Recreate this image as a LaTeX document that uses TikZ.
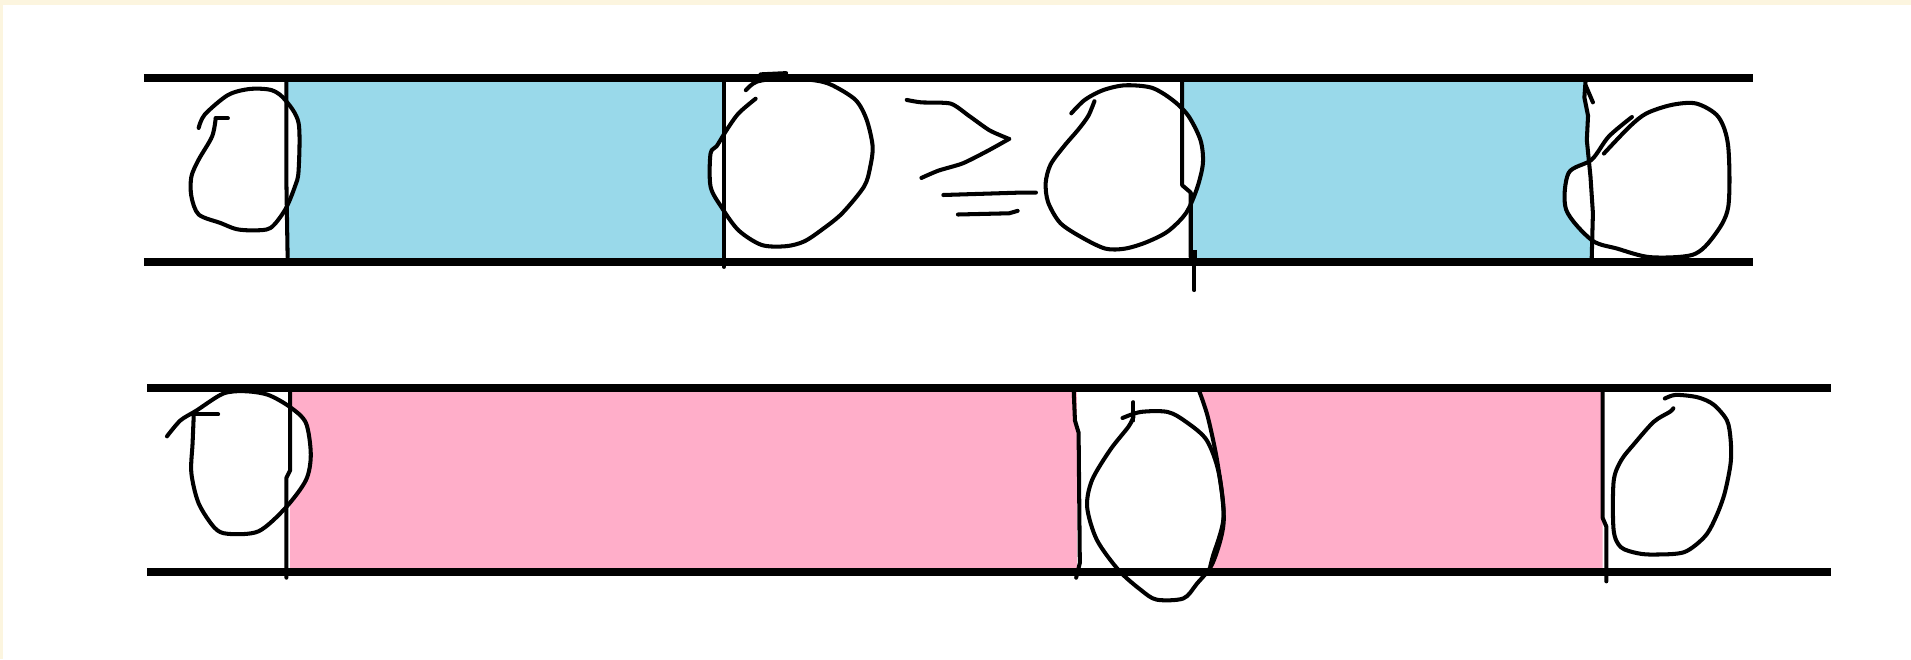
\documentclass[tikz,border=0pt]{standalone}
\definecolor{paintblue}{HTML}{99D9EA}
\definecolor{paintpink}{HTML}{FFAEC9}
\definecolor{cream}{HTML}{FCF5DF}
\tikzset{
  rail/.style={line width=4.6pt},
  wall/.style={line width=2.3pt, line cap=round, line join=round},
  blob/.style={line width=2.3pt, fill=white, line cap=round, line join=round},
}
\begin{document}
\begin{tikzpicture}[x=0.024374cm, y=-0.024374cm]
    \useasboundingbox (0,0) rectangle (1568,541);
    % frame
    \fill[cream] (0,0) rectangle (1568,541);
    \fill[white] (2.2,4.2) rectangle (1568,541);

    % coloured cells
    \fill[paintblue] (235,64) rectangle (594,215);
    \fill[paintblue] (970,64) -- (1301,64) -- (1300,80) -- (1303,95) -- (1302,115) -- (1305,145)
        -- (1307,175) -- (1306,215) -- (977,215) -- (977,158) -- (970,152) -- cycle;
    \fill[paintpink] (238,318) rectangle (884,469);
    \fill[paintpink] (984,318) -- (984,321) -- (991,342) -- (999,380) -- (1004,424) -- (995,457)
        -- (993,469) -- (1315,469) -- (1315,318) -- cycle;

    % top row
    \draw[blob] plot[smooth, tension=0.5] coordinates {(163,105) (168,94) (187,78) (205,73) (223,74)
        (234,82) (245,101) (245,140) (242,153) (234,172) (222,187) (208,189) (194,188) (181,183) (163,176)
        (157,161) (157,145) (163,131) (174,112) (177,97)};
    \draw[wall] (177,97) -- (187,97);
    \draw[blob] plot[smooth, tension=0.5] coordinates {(620,81) (606,93) (596,107) (588,120) (583,126)
        (583,153) (592,170) (606,189) (625,201) (645,202) (660,198) (675,188) (691,175) (709,153) (714,137)
        (716,120) (711,98) (702,82) (683,70) (669,66) (643,64) (621,67) (612,74)};
    \draw[wall] (624,61) -- (645,60);
    \draw[blob] plot[smooth, tension=0.5] coordinates {(879,93) (890,82) (905,74) (923,70) (945,72)
        (962,82) (975,95) (985,115) (987,134) (982,155) (973,175) (958,190) (940,199) (923,204)
        (907,204) (888,195) (870,183) (860,166) (858,150) (862,135) (873,120) (885,106) (893,95) (898,83)};
    \draw[blob] plot[smooth, tension=0.5] coordinates {(1339,96) (1320,112) (1306,131) (1287,142)
        (1285,172) (1306,197) (1327,204) (1354,211) (1389,209) (1406,194) (1418,170) (1418,120)
        (1410,96) (1392,85) (1372,86) (1351,93) (1337,104) (1316,126)};

    % greater or equal
    \draw[wall] plot[smooth, tension=0.4] coordinates {(744,82) (756,84) (780,85) (795,95) (812,107) (828,114)};
    \draw[wall] plot[smooth, tension=0.4] coordinates {(828,114) (810,124) (790,134) (770,140) (756,146)};
    \draw[wall] (774,160) -- (838,158) -- (850,158);
    \draw[wall] (786,176) -- (828,175) -- (835,173);

    \draw[rail] (118,64) -- (1438,64);
    \draw[rail] (118,215) -- (1438,215);

    \draw[wall] (235,66) -- (235,150) -- (236,211);
    \draw[wall] (594,66) -- (594,219);
    \draw[wall] (970,66) -- (970,152) -- (977,158) -- (977,211);
    \draw[line width=3pt] (980,205) -- (980,213);
    \draw[wall] (980,213) -- (980,238);
    \draw[wall] (1301,66) -- (1300,80) -- (1303,95) -- (1302,115) -- (1305,145) -- (1307,175) -- (1306,212);
    \draw[wall] (1301,70) -- (1307,84);

    % bottom row
    \draw[blob] plot[smooth, tension=0.5] coordinates {(137,358) (148,345) (161,337) (183,323) (201,321)
        (220,324) (238,334) (251,347) (255,373) (251,394) (234,417) (212,436) (187,438) (176,433)
        (163,413) (157,388) (158,364) (159,340)};
    \draw[wall] (159,340) -- (179,340);
    \draw[blob] plot[smooth, tension=0.5] coordinates {(921,343) (936,338) (958,338) (973,346) (990,361)
        (1000,388) (1004,429) (995,462) (982,479) (971,491) (949,492) (936,484) (918,468) (900,443)
        (892,416) (896,394) (911,369) (926,350) (930,342)};
    \draw[wall] (930,330) -- (930,345);
    \draw[blob] plot[smooth, tension=0.5] coordinates {(1366,327) (1375,324) (1393,326) (1406,332)
        (1417,345) (1420,361) (1420,380) (1415,405) (1408,424) (1399,440) (1382,453) (1358,455)
        (1344,454) (1330,449) (1324,435) (1324,395) (1330,378) (1341,364) (1357,346) (1370,338) (1373,335)};

    \draw[rail] (121,318) -- (1502,318);
    \draw[rail] (121,469) -- (1502,469);

    \draw[wall] (238,321) -- (238,386) -- (235,392) -- (235,474);
    \draw[wall] (881,321) -- (882,345) -- (885,355) -- (886,462) -- (883,474);
    \draw[wall] plot[smooth, tension=0.5] coordinates {(984,321) (991,342) (999,380) (1004,424) (995,457) (993,465)};
    \draw[wall] (1315,321) -- (1315,425) -- (1318,432) -- (1318,477);
\end{tikzpicture}
\end{document}
